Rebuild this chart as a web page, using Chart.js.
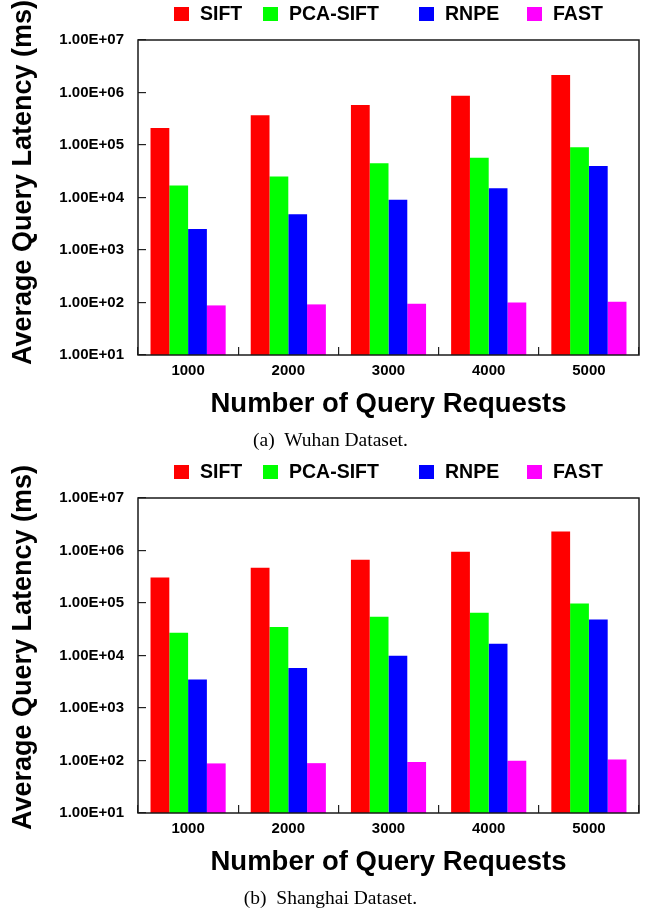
<!DOCTYPE html>
<html><head><meta charset="utf-8">
<script src="https://cdn.jsdelivr.net/npm/chart.js@4.4.1/dist/chart.umd.min.js"></script>
<style>
html,body{margin:0;padding:0;background:#fff;width:645px;height:913px;overflow:hidden;position:relative;font-family:"Liberation Sans",Arial,sans-serif;}
.panel{position:absolute;left:0;width:645px;height:430px;}
.panel canvas{position:absolute;left:0;top:0;}
.li{position:absolute;top:4px;height:19px;line-height:19px;display:flex;align-items:center;font-weight:bold;font-size:19.5px;color:#000;white-space:nowrap;}
.sw{width:15px;height:14px;margin-right:11px;}
.cap{position:absolute;left:8px;width:645px;text-align:center;font-family:"Liberation Serif","Times New Roman",serif;font-size:19.5px;line-height:20px;color:#000;white-space:pre;}
</style></head><body>
<div class="panel" id="p1" style="top:0px;"><canvas id="c1" width="645" height="430"></canvas><div class="lg"></div><div class="cap" style="top:430px;">(a)  Wuhan Dataset.</div></div>
<div class="panel" id="p2" style="top:458px;"><canvas id="c2" width="645" height="430"></canvas><div class="lg"></div><div class="cap" style="top:430px;">(b)  Shanghai Dataset.</div></div>
<script>
const categories = ['1000', '2000', '3000', '4000', '5000'];
const seriesNames = ['SIFT', 'PCA-SIFT', 'RNPE', 'FAST'];
const seriesColors = ['#FF0000', '#00FF00', '#0000FF', '#FF00FF'];

const wuhanSIFT    = [2.1e5, 3.7e5, 5.8e5, 8.7e5, 2.15e6];
const wuhanPCASIFT = [1.7e4, 2.5e4, 4.5e4, 5.7e4, 9.1e4];
const wuhanRNPE    = [2.5e3, 4.8e3, 9.1e3, 1.5e4, 4.0e4];
const wuhanFAST    = [88, 92, 95, 100, 103];

const shanghaiSIFT    = [3.05e5, 4.7e5, 6.7e5, 9.5e5, 2.3e6];
const shanghaiPCASIFT = [2.7e4, 3.5e4, 5.5e4, 6.5e4, 9.8e4];
const shanghaiRNPE    = [3.5e3, 5.8e3, 9.9e3, 1.67e4, 4.85e4];
const shanghaiFAST    = [88, 89, 94, 99, 105];

const yTickValues = [1e1, 1e2, 1e3, 1e4, 1e5, 1e6, 1e7];
const yTickLabels = ['1.00E+01', '1.00E+02', '1.00E+03', '1.00E+04', '1.00E+05', '1.00E+06', '1.00E+07'];

const xTitle = 'Number of Query Requests';
const yTitle = 'Average Query Latency (ms)';

// legend layout (pixel left of each swatch)
const legendLeft = [174, 263, 419, 527];

const SANS = 'Liberation Sans, Arial, sans-serif';

const boxPlugin = {
  id: 'plotBox',
  afterDraw(chart) {
    const a = chart.chartArea, ctx = chart.ctx;
    ctx.save();
    ctx.strokeStyle = '#1a1a1a';
    ctx.lineWidth = 1.5;
    ctx.strokeRect(a.left, a.top, a.right - a.left, a.bottom - a.top);
    ctx.restore();
  }
};

// vertical axis title, drawn like Chart.js does but with a small vertical shift
const yTitlePlugin = {
  id: 'yTitleText',
  afterDraw(chart, args, opts) {
    const a = chart.chartArea, ctx = chart.ctx;
    ctx.save();
    ctx.translate(opts.x, (a.top + a.bottom) / 2 + opts.shift);
    ctx.rotate(-Math.PI / 2);
    ctx.fillStyle = '#000';
    ctx.font = 'bold 27px ' + SANS;
    ctx.textAlign = 'center';
    ctx.textBaseline = 'middle';
    ctx.fillText(opts.text, 0, 0);
    ctx.restore();
  }
};

function buildLegend(panel) {
  const lg = panel.querySelector('.lg');
  seriesNames.forEach((n, i) => {
    const d = document.createElement('div');
    d.className = 'li';
    d.style.left = legendLeft[i] + 'px';
    const sw = document.createElement('span');
    sw.className = 'sw';
    sw.style.background = seriesColors[i];
    d.appendChild(sw);
    d.appendChild(document.createTextNode(n));
    lg.appendChild(d);
  });
}

function makeChart(canvasId, seriesData, titleShift) {
  return new Chart(document.getElementById(canvasId), {
    type: 'bar',
    data: {
      labels: categories,
      datasets: seriesNames.map((n, i) => ({
        label: n,
        data: seriesData[i],
        backgroundColor: seriesColors[i],
        borderWidth: 0,
        categoryPercentage: 0.75,
        barPercentage: 1.0
      }))
    },
    options: {
      responsive: false,
      animation: false,
      devicePixelRatio: 1,
      layout: { padding: { top: 40, right: 6, left: 0, bottom: 0 } },
      plugins: {
        legend: { display: false },
        tooltip: { enabled: false },
        yTitleText: { text: yTitle, x: 24, shift: titleShift }
      },
      scales: {
        x: {
          grid: { display: true, drawOnChartArea: false, offset: true, tickLength: -8, color: '#222', lineWidth: 1.2 },
          border: { display: false },
          ticks: { padding: 15, color: '#000', font: { family: SANS, size: 15, weight: 'bold' } },
          title: { display: true, text: xTitle, color: '#000', font: { family: SANS, size: 27.5, weight: 'bold' }, padding: { top: 0, bottom: 9 } },
          afterFit(s) { s.height = 75; }
        },
        y: {
          type: 'logarithmic',
          min: 10,
          max: 1e7,
          grid: { display: true, drawOnChartArea: false, tickLength: -8, color: '#222', lineWidth: 1.2 },
          border: { display: false },
          afterBuildTicks(s) { s.ticks = yTickValues.map(v => ({ value: v })); },
          ticks: {
            padding: 22, color: '#000', autoSkip: false,
            font: { family: SANS, size: 15, weight: 'bold' },
            callback: (v) => yTickLabels[yTickValues.indexOf(v)]
          },
          title: { display: false },
          afterFit(s) { s.width = 138; }
        }
      }
    },
    plugins: [boxPlugin, yTitlePlugin]
  });
}

buildLegend(document.getElementById('p1'));
buildLegend(document.getElementById('p2'));
makeChart('c1', [wuhanSIFT, wuhanPCASIFT, wuhanRNPE, wuhanFAST], -15);
makeChart('c2', [shanghaiSIFT, shanghaiPCASIFT, shanghaiRNPE, shanghaiFAST], -8);
</script>
</body></html>
